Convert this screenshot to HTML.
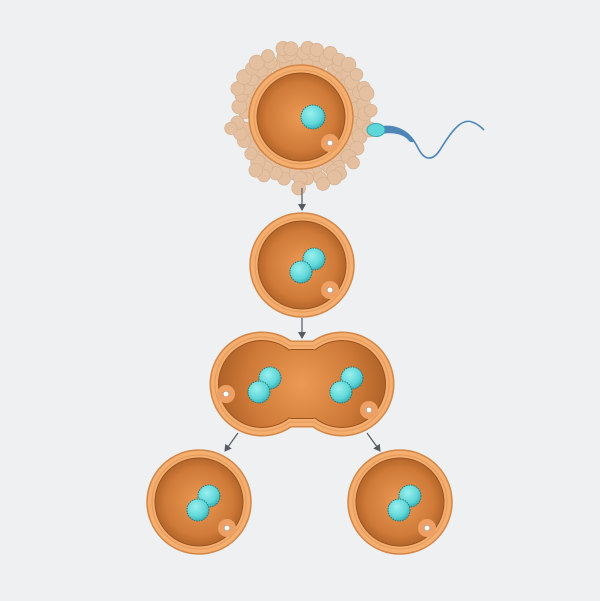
<!DOCTYPE html>
<html><head><meta charset="utf-8"><style>
html,body{margin:0;padding:0;background:#eef0f2;}
svg{display:block}
</style></head><body>
<svg id="s" width="600" height="601" viewBox="0 0 600 601" xmlns="http://www.w3.org/2000/svg">
<defs>
<radialGradient id="cyto" cx="50%" cy="50%" r="55%">
<stop offset="0" stop-color="#eb9a55"/><stop offset="0.7" stop-color="#cf7a38"/><stop offset="1" stop-color="#a85d25"/>
</radialGradient>
<radialGradient id="cyto2" cx="302" cy="384" r="90" gradientUnits="userSpaceOnUse">
<stop offset="0" stop-color="#eb9a55"/><stop offset="0.6" stop-color="#cf7a38"/><stop offset="1" stop-color="#a85d25"/>
</radialGradient>
<radialGradient id="nuc" cx="40%" cy="35%" r="65%">
<stop offset="0" stop-color="#9af0ee"/><stop offset="0.7" stop-color="#5fd6d8"/><stop offset="1" stop-color="#3ab3b8"/>
</radialGradient>
<marker id="ar" markerWidth="8" markerHeight="8" refX="6" refY="4" orient="auto" markerUnits="userSpaceOnUse">
<path d="M0,0 L7,4 L0,8 Z" fill="#555b63"/>
</marker>
</defs>
<rect width="600" height="601" fill="#eef0f2"/>
<g id="foll"></g>
<g id="cells"></g>
<g stroke="#555b63" stroke-width="1.2" fill="none" marker-end="url(#ar)">
<line x1="302" y1="188" x2="302" y2="210"/>
<line x1="302" y1="318" x2="302" y2="338"/>
<line x1="238" y1="433" x2="225" y2="451"/>
<line x1="367" y1="433" x2="380" y2="451"/>
</g>
<path d="M382,128 C400,126 410,132 418,148 C424,160 432,162 440,150 C452,130 462,118 472,122 C478,124 482,128 484,130" stroke="#4f86b8" stroke-width="1.6" fill="none"/>
<path d="M382,126 C396,124 408,130 414,142 L410,142 C404,134 394,132 382,134 Z" fill="#4f86b8"/>
<ellipse cx="376" cy="130" rx="9" ry="6.5" fill="#5fd6d8" stroke="#3aa8b0" stroke-width="1"/>
</svg>
<script>
var NS="http://www.w3.org/2000/svg";
function el(p,t,a){var e=document.createElementNS(NS,t);for(var k in a)e.setAttribute(k,a[k]);p.appendChild(e);return e;}
var F=document.getElementById('foll'),C=document.getElementById('cells');
var seed=7;function rnd(){seed=(seed*9301+49297)%233280;return seed/233280;}
var cx=301,cy=117;
for(var ring=0;ring<3;ring++){
 var R=[56,63,70][ring],n=[30,34,36][ring];
 for(var i=0;i<n;i++){
  var a=(i+ring*0.5)/n*Math.PI*2+rnd()*0.1;
  if(ring==2 && rnd()<0.3) continue;
  var rr=R+(rnd()-0.5)*3;
  var x=cx+Math.cos(a)*rr,y=cy+Math.sin(a)*rr;
  el(F,'circle',{cx:x.toFixed(1),cy:y.toFixed(1),r:(6.2+rnd()*1.3).toFixed(1),fill:'#e4c0a0',stroke:'#d5b08f','stroke-width':0.7});
 }
}
function nucs(g,list){list.forEach(function(n){el(g,'circle',{cx:n[0],cy:n[1],r:n[2],fill:'url(#nuc)',stroke:'#2a7a7a','stroke-width':1,'stroke-dasharray':'1.5 1'});});}
function pbody(g,x,y){
 el(g,'circle',{cx:x,cy:y,r:9,fill:'#eea064',stroke:'none'});
 el(g,'circle',{cx:x,cy:y,r:2.8,fill:'#fff',stroke:'#888','stroke-width':0.5});
}
function cell(x,y,nl,pb){
 var g=el(C,'g',{});
 el(g,'circle',{cx:x,cy:y,r:52,fill:'#f3ae70',stroke:'#d48646','stroke-width':1.5});
 el(g,'circle',{cx:x,cy:y,r:47,fill:'none',stroke:'#e59a58','stroke-width':1});
 el(g,'circle',{cx:x,cy:y,r:44,fill:'url(#cyto)',stroke:'#9a5420','stroke-width':1});
 if(pb)pbody(g,pb[0],pb[1]);
 nucs(g,nl);
}
cell(301,117,[[313,117,12]],[330,143]);
cell(302,265,[[314,259,11],[301,272,11]],[330,290]);
(function(){
 var g=el(C,'g',{});
 function layer(r,w,sc,fc){
  var t=384-r+9,b=384+r-9;
  [[r+w,sc],[r,fc]].forEach(function(p){
   var rr=p[0],f=p[1],tt=t-(rr-r),bb=b+(rr-r);
   el(g,'circle',{cx:262,cy:384,r:rr,fill:f});
   el(g,'circle',{cx:342,cy:384,r:rr,fill:f});
   el(g,'rect',{x:284,y:tt,width:36,height:bb-tt,rx:8,fill:f});
   el(g,'rect',{x:262,y:tt+8,width:80,height:bb-tt-16,fill:f});
  });
 }
 layer(51,1.5,'#d48646','#f3ae70');
 layer(46.5,1,'#e59a58','#f3ae70');
 layer(43,1,'#9a5420','url(#cyto2)');
 pbody(g,226,394);pbody(g,369,410);
 nucs(g,[[270,378,11],[259,392,11],[352,378,11],[341,392,11]]);
})();
cell(199,502,[[209,496,11],[198,510,11]],[227,528]);
cell(400,502,[[410,496,11],[399,510,11]],[427,528]);
</script>
</body></html>
